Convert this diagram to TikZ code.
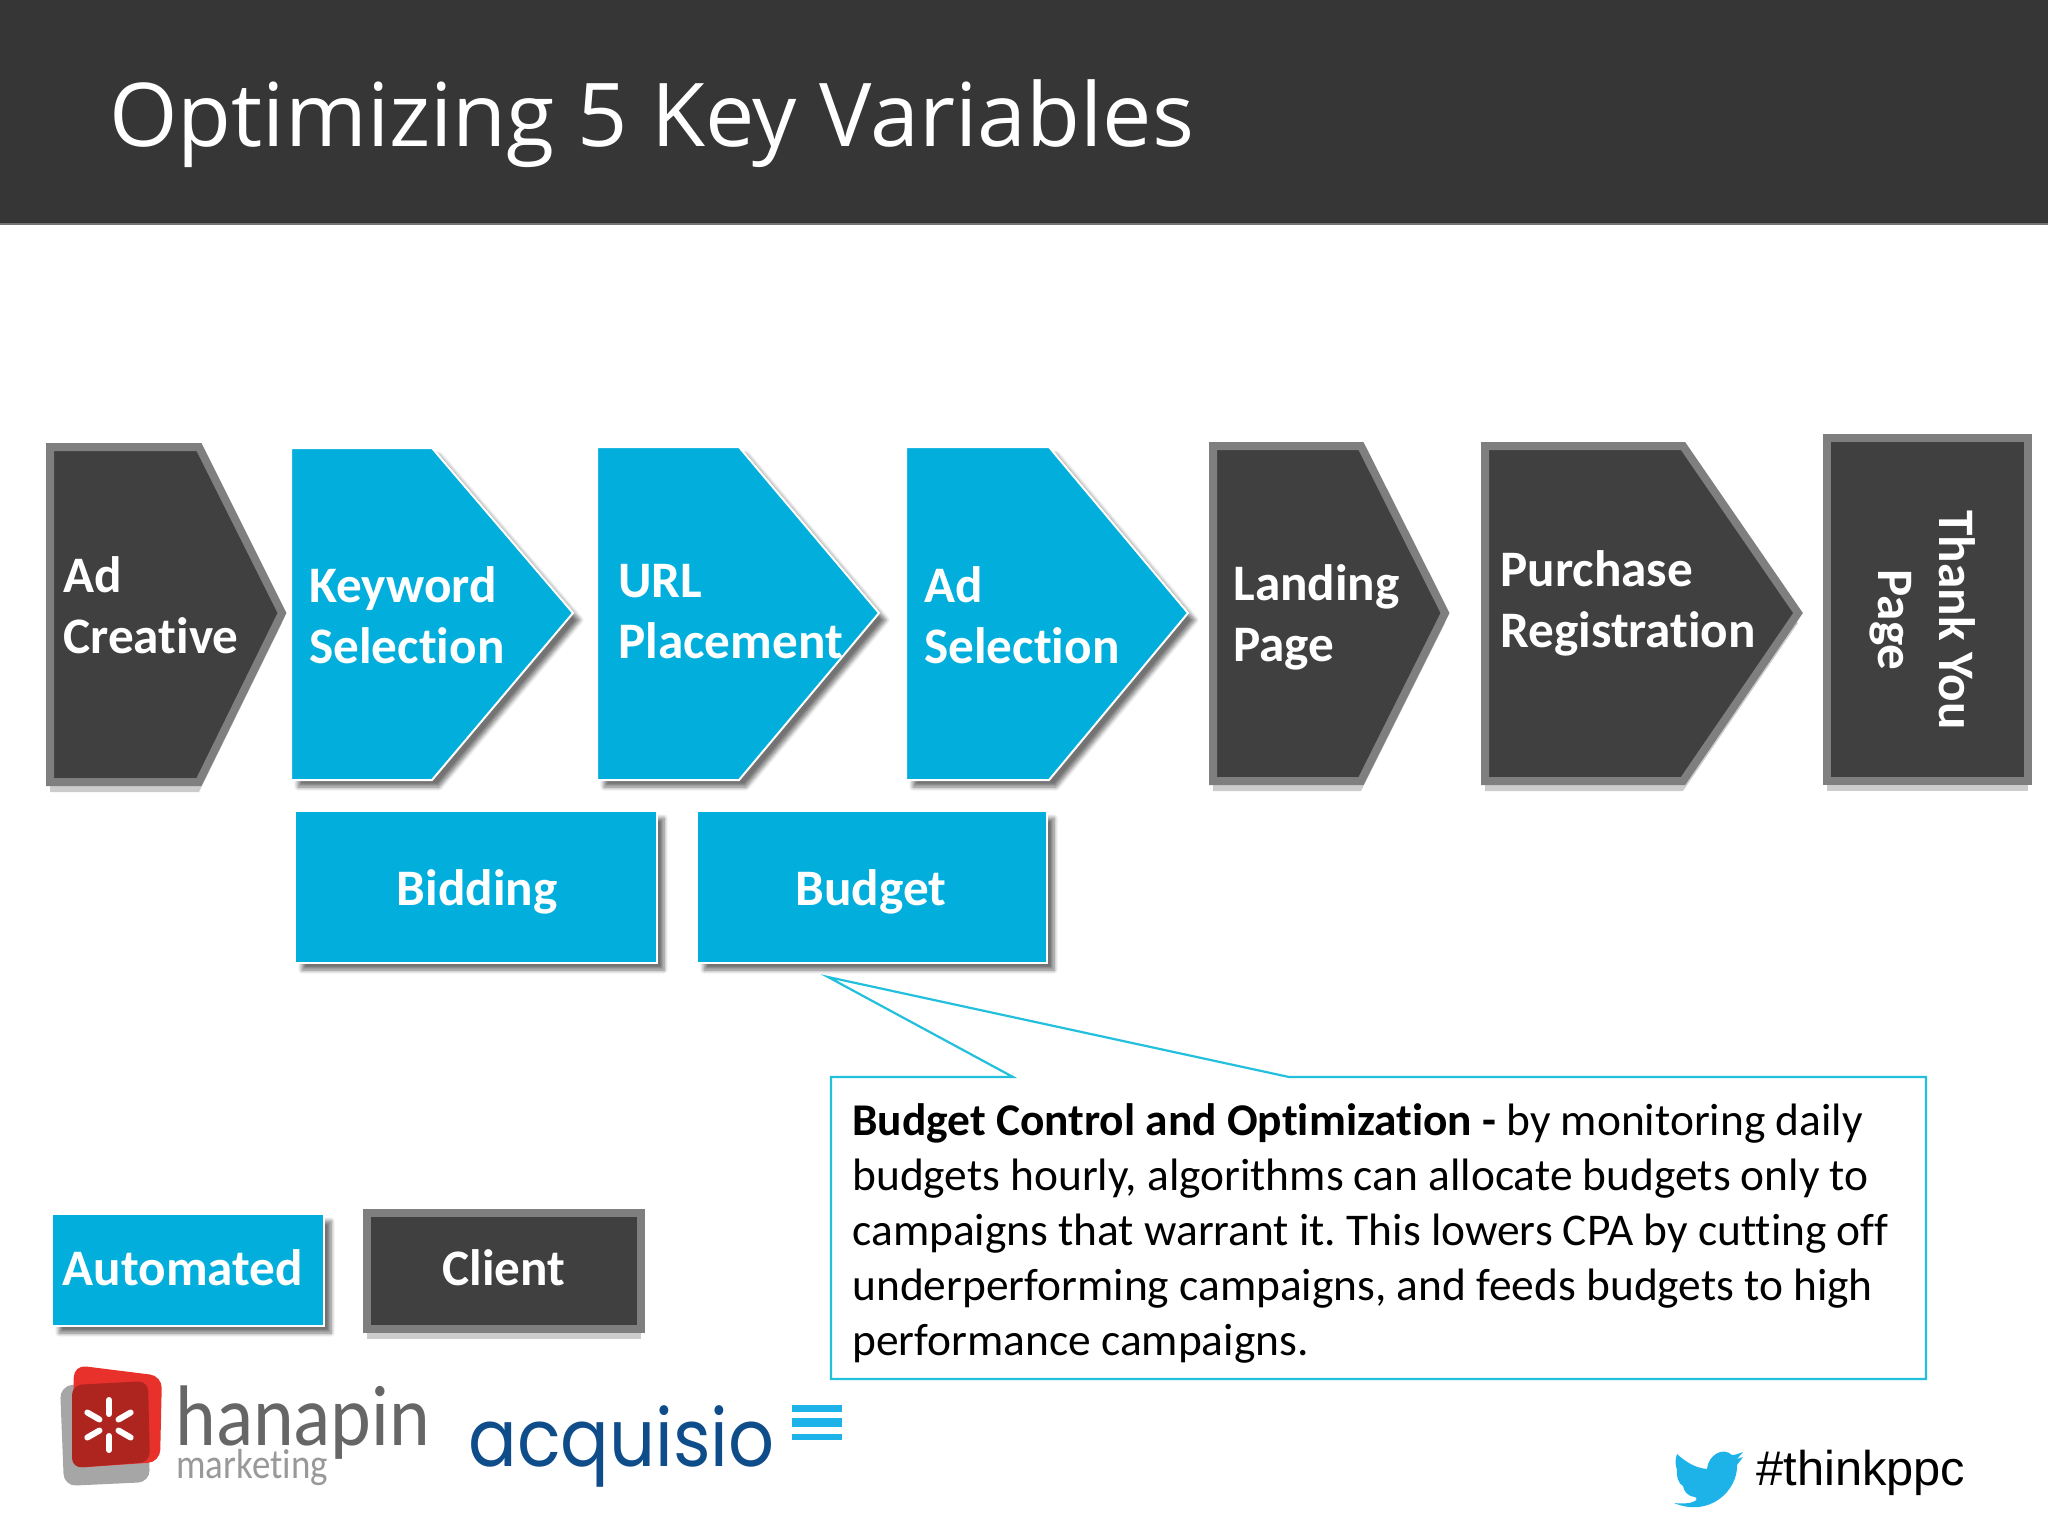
\documentclass[tikz,border=0pt]{standalone}
\usepackage{fontspec}
\usepackage{xcolor}
\setmainfont{Carlito}[Ligatures=NoCommon]
\newfontfamily\titlefont{Open Sans}
\newfontfamily\tagfont{Liberation Sans}
\newfontfamily\logofont{Poppins}
\usetikzlibrary{positioning,shadows,shadows.blur}
\definecolor{headgrey}{HTML}{363636}
\definecolor{darkbox}{HTML}{404040}
\definecolor{rimgrey}{HTML}{7F7F7F}
\definecolor{autoblue}{HTML}{02AFDC}
\definecolor{calloutline}{HTML}{22C0DC}
\definecolor{logored}{HTML}{E8312A}
\definecolor{logonavy}{HTML}{0F4C8A}
\definecolor{birdblue}{HTML}{1DB2E8}
\begin{document}
\begin{tikzpicture}[x=0.5pt,y=-0.5pt,
    client/.style = {fill=darkbox, draw=rimgrey, line width=4pt, miter limit=10,
        drop shadow={shadow xshift=0pt, shadow yshift=-5pt, fill=black!20, opacity=1}},
    automated/.style = {fill=autoblue, draw=white, line width=1pt,
        blur shadow={shadow xshift=3.5pt, shadow yshift=-3.5pt, shadow blur steps=6, shadow blur radius=2pt, shadow opacity=55}},
    steplabel/.style = {text=white, font=\bfseries\fontsize{25.6pt}{30.5pt}\selectfont, align=left, anchor=west, inner sep=0pt},
    boxlabel/.style = {text=white, font=\bfseries\fontsize{25.6pt}{30pt}\selectfont, inner sep=0pt, anchor=base}]
    \useasboundingbox (0,0) rectangle (2048,1536);
    \fill[headgrey] (0,0) rectangle (2048,223);
    \fill[black!55] (0,223) rectangle (2048,225);
    \node[text=white, anchor=base west, inner sep=0pt, font=\titlefont\fontsize{44pt}{50pt}\selectfont] (title) at (109,147) {Optimizing 5 Key Variables};

    \draw[client] (50,447) -- (199,447) -- (282,613) -- (199,782) -- (50,782) -- cycle;
    \draw[automated] (291,448) -- (432,448) -- (573,613) -- (432,780) -- (291,780) -- cycle;
    \draw[automated] (597,447) -- (739,447) -- (879,613) -- (739,780) -- (597,780) -- cycle;
    \draw[automated] (906,447) -- (1049,447) -- (1188,613) -- (1049,780) -- (906,780) -- cycle;
    \draw[client] (1213,446) -- (1361,446) -- (1445,613) -- (1361,781) -- (1213,781) -- cycle;
    \draw[client] (1485,446) -- (1683,446) -- (1798,613) -- (1683,781) -- (1485,781) -- cycle;
    \draw[client] (1827,438) rectangle (2028,781);

    \node[steplabel] (adcreative) at (63,605) {Ad\\Creative};
    \node[steplabel] (keyword) at (309,615) {Keyword\\Selection};
    \node[steplabel] (url) at (618,612) {URL\\Placement};
    \node[steplabel] (adselection) at (924,615) {Ad\\Selection};
    \node[steplabel] (landing) at (1233,617) {Landing\\Page};
    \node[steplabel] (purchase) at (1500,603) {Purchase\\Registration};
    \node[steplabel, align=center, anchor=center, rotate=-90] (thankyou) at (1923,620) {Thank You\\Page};

    \node[automated, minimum width=181pt, minimum height=76pt, inner sep=0pt] (biddingbox) at (476,887) {};
    \node[automated, minimum width=175pt, minimum height=76pt, inner sep=0pt] (budgetbox) at (872,887) {};
    \node[boxlabel] (bidding) at (477,905) {Bidding};
    \node[boxlabel] (budget) at (871,905) {Budget};

    \coordinate (tip) at (828,977);
    \coordinate (tailleft) at (1013,1077);
    \coordinate (tailright) at (1289,1077);
    \draw[calloutline, line width=1.1pt] (831,1077) -- (tailleft) -- (tip) -- (tailright) -- (1926,1077) -- (1926,1379) -- (831,1379) -- cycle;
    \node[anchor=north west, inner sep=0pt, align=left, text=black, font=\frenchspacing\fontsize{22.7pt}{27.5pt}\selectfont] (note) at (852,1103)
        {\textbf{Budget Control and Optimization -} by monitoring daily\\
        budgets hourly, algorithms can allocate budgets only to\\
        campaigns that warrant it. This lowers CPA by cutting off\\
        underperforming campaigns, and feeds budgets to high\\
        performance campaigns.};

    \node[automated, minimum width=136pt, minimum height=56pt, inner sep=0pt] (autobox) at (188,1270) {};
    \node[client, minimum width=137pt, minimum height=58pt, inner sep=0pt] (clientbox) at (504,1271) {};
    \node[boxlabel] (autolabel) at (183,1285) {Automated};
    \node[boxlabel] (clientlabel) at (504,1285) {Client};

    \fill[black!35, rounded corners=6pt] (60,1386) -- (146,1378) -- (150,1482) -- (64,1486) -- cycle;
    \fill[logored, rounded corners=6pt] (74,1365) -- (162,1376) -- (160,1462) -- (72,1468) -- cycle;
    \fill[black!25!logored, rounded corners=5pt] (72,1385) -- (148,1381) -- (150,1462) -- (72,1468) -- cycle;
    \foreach \ang in {0,60,...,300}
        \draw[white, line width=3pt, line cap=round] (109,1425) ++(\ang+90:11) -- ++(\ang+90:14);
    \node[anchor=base west, inner sep=0pt, text=black!60] (hanapin) at (175,1445) {\scalebox{.9}[1]{\fontsize{43pt}{50pt}\selectfont hanapin}};
    \node[anchor=base west, inner sep=0pt, text=black!40] (marketing) at (176,1478) {\scalebox{.88}[1]{\fontsize{21pt}{25pt}\selectfont marketing}};
    \node[anchor=base west, inner sep=0pt, text=logonavy] (acquisio) at (468,1466) {\scalebox{.9}[1]{\logofont\fontsize{40pt}{44pt}\selectfont acquisio}};
    \fill[birdblue] (792,1405) rectangle (842,1412);
    \fill[birdblue] (792,1418) rectangle (842,1427);
    \fill[birdblue] (792,1434) rectangle (842,1440);

    \fill[birdblue] (1674,1503) .. controls (1692,1505) and (1700,1500) .. (1695,1497)
        .. controls (1686,1496) and (1684,1490) .. (1683,1486)
        .. controls (1678,1484) and (1676,1474) .. (1677,1470)
        .. controls (1675,1464) and (1675,1460) .. (1677,1454)
        .. controls (1688,1464) and (1697,1468) .. (1707,1469)
        .. controls (1708,1456) and (1722,1446) .. (1732,1455)
        .. controls (1736,1455) and (1740,1453) .. (1743,1452)
        -- (1737,1459) -- (1743,1457) -- (1737,1465)
        .. controls (1738,1490) and (1710,1518) .. (1674,1503) -- cycle;
    \node[anchor=base west, inner sep=0pt, text=black, font=\tagfont\fontsize{24.4pt}{28pt}\selectfont] (hashtag) at (1756,1485) {\#thinkppc};
\end{tikzpicture}
\end{document}
